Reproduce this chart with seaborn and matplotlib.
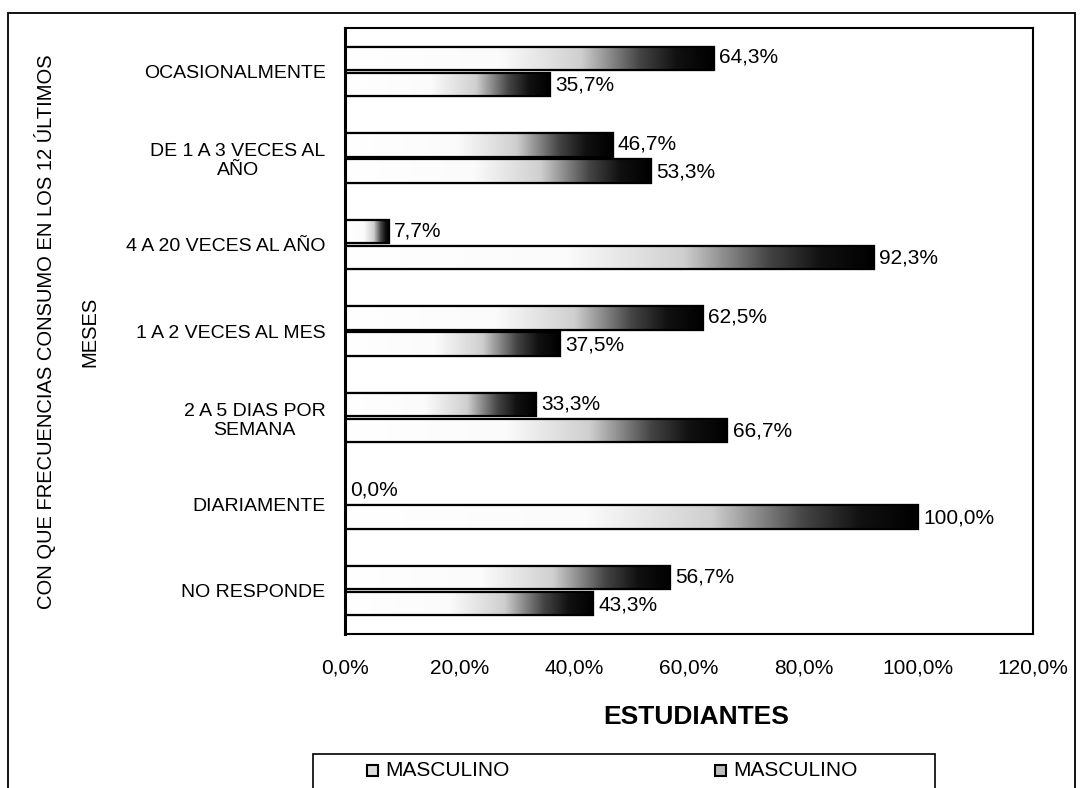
import seaborn as sns
import matplotlib.pyplot as plt
import matplotlib.patches as mpatches
from matplotlib.colors import LinearSegmentedColormap
import pandas as pd
import numpy as np

# Datos
categorias = ['OCASIONALMENTE', 'DE 1 A 3 VECES AL\nAÑO', '4 A 20 VECES AL AÑO',
              '1 A 2 VECES AL MES', '2 A 5 DIAS POR\nSEMANA', 'DIARIAMENTE', 'NO RESPONDE']
serie_1 = [64.3, 46.7, 7.7, 62.5, 33.3, 0.0, 56.7]   # barra superior
serie_2 = [35.7, 53.3, 92.3, 37.5, 66.7, 100.0, 43.3]  # barra inferior
leyenda = ['MASCULINO', 'MASCULINO']
x_ticks = [0, 20, 40, 60, 80, 100, 120]

dados = pd.DataFrame({
    'Categoria': categorias * 2,
    'Valor': serie_1 + serie_2,
    'Serie': ['s1'] * len(categorias) + ['s2'] * len(categorias),
})

sns.set_style('white')
plt.rcParams['font.family'] = ['Liberation Sans', 'DejaVu Sans']
plt.rcParams['text.color'] = 'black'
plt.rcParams['xtick.color'] = 'black'
plt.rcParams['ytick.color'] = 'black'

W, H = 1084, 788
fig = plt.figure(figsize=(10.84, 7.88), dpi=100)
ax = fig.add_axes([345 / W, 1 - 634 / H, (1033 - 345) / W, (634 - 28) / H])

sns.barplot(data=dados, y='Categoria', x='Valor', hue='Serie', orient='h',
            palette=['white', 'white'], edgecolor='black', linewidth=1.5,
            width=0.6, gap=0.1, legend=False, ax=ax)

# degradado blanco -> negro dentro de cada barra
cmap = LinearSegmentedColormap.from_list(
    'grad', [(0, 'white'), (0.42, '#fbfbfb'), (0.64, '#cfcfcf'),
             (0.8, '#454545'), (0.9, '#111111'), (1, 'black')])
grad = np.linspace(0, 1, 256).reshape(1, -1)
for p in list(ax.patches):
    x0, y0 = p.get_x(), p.get_y()
    w, h = p.get_width(), p.get_height()
    if w <= 0:
        continue
    im = ax.imshow(grad, extent=[x0, x0 + w, y0, y0 + h], aspect='auto',
                   cmap=cmap, zorder=p.get_zorder() + 0.1, interpolation='bilinear')
    im.set_clip_path(p)
    ax.add_patch(mpatches.Rectangle((x0, y0), w, h, fill=False, edgecolor='black',
                                    linewidth=1.6, zorder=p.get_zorder() + 0.2))

# etiquetas de valor
for i, (a, b) in enumerate(zip(serie_1, serie_2)):
    ax.text(a + 0.9, i - 0.16, f'{a:.1f}%'.replace('.', ','), va='center',
            ha='left', fontsize=15)
    ax.text(b + 0.9, i + 0.16, f'{b:.1f}%'.replace('.', ','), va='center',
            ha='left', fontsize=15)

ax.set_xlim(0, 120)
ax.set_ylim(len(categorias) - 0.5, -0.5)
ax.set_xticks(x_ticks)
ax.set_xticklabels([f'{t:.1f}%'.replace('.', ',') for t in x_ticks], fontsize=15)
ax.tick_params(axis='x', direction='out', length=6, width=1, pad=12)
ax.set_yticks(range(len(categorias)))
ax.set_yticklabels(categorias, fontsize=14, multialignment='center')
ax.tick_params(axis='y', length=0, pad=14)
ax.set_yticks(np.arange(-0.5, len(categorias), 1), minor=True)
ax.tick_params(axis='y', which='minor', direction='out', length=5, width=1)

for sp in ax.spines.values():
    sp.set_visible(True)
    sp.set_color('black')
    sp.set_linewidth(1.5)
ax.spines['left'].set_linewidth(2.2)

ax.set_xlabel('')
ax.set_ylabel('')
fig.text(696 / W, 1 - 717 / H, 'ESTUDIANTES', ha='center', va='center',
         fontsize=19, fontweight='bold')
fig.text(67 / W, 1 - 332 / H, 'CON QUE FRECUENCIAS CONSUMO EN LOS 12 ÚLTIMOS\nMESES',
         rotation=90, ha='center', va='center', fontsize=14.5, linespacing=2.6)

# marco exterior
fig.patches.append(mpatches.Rectangle((8 / W, -0.01), (1075 - 8) / W, 1 - 13 / H + 0.01,
                                      transform=fig.transFigure, fill=False,
                                      edgecolor='black', linewidth=1.3))

# leyenda (dibujada a mano para fijar la posición de cada entrada)
fig.patches.append(mpatches.Rectangle((313 / W, -0.01), (935 - 313) / W, 1 - 754 / H + 0.01,
                                      transform=fig.transFigure, fill=False,
                                      edgecolor='black', linewidth=1.2))
for xm, col, lab in [(367, '#dddddd', leyenda[0]), (715, '#bbbbbb', leyenda[1])]:
    fig.patches.append(mpatches.Rectangle((xm / W, 1 - 776 / H), 11 / W, 11 / H,
                                          transform=fig.transFigure, facecolor=col,
                                          edgecolor='black', linewidth=1.5))
    fig.text((xm + 18) / W, 1 - 770 / H, lab, ha='left', va='center', fontsize=15)

fig.savefig('out.png', dpi=100)
